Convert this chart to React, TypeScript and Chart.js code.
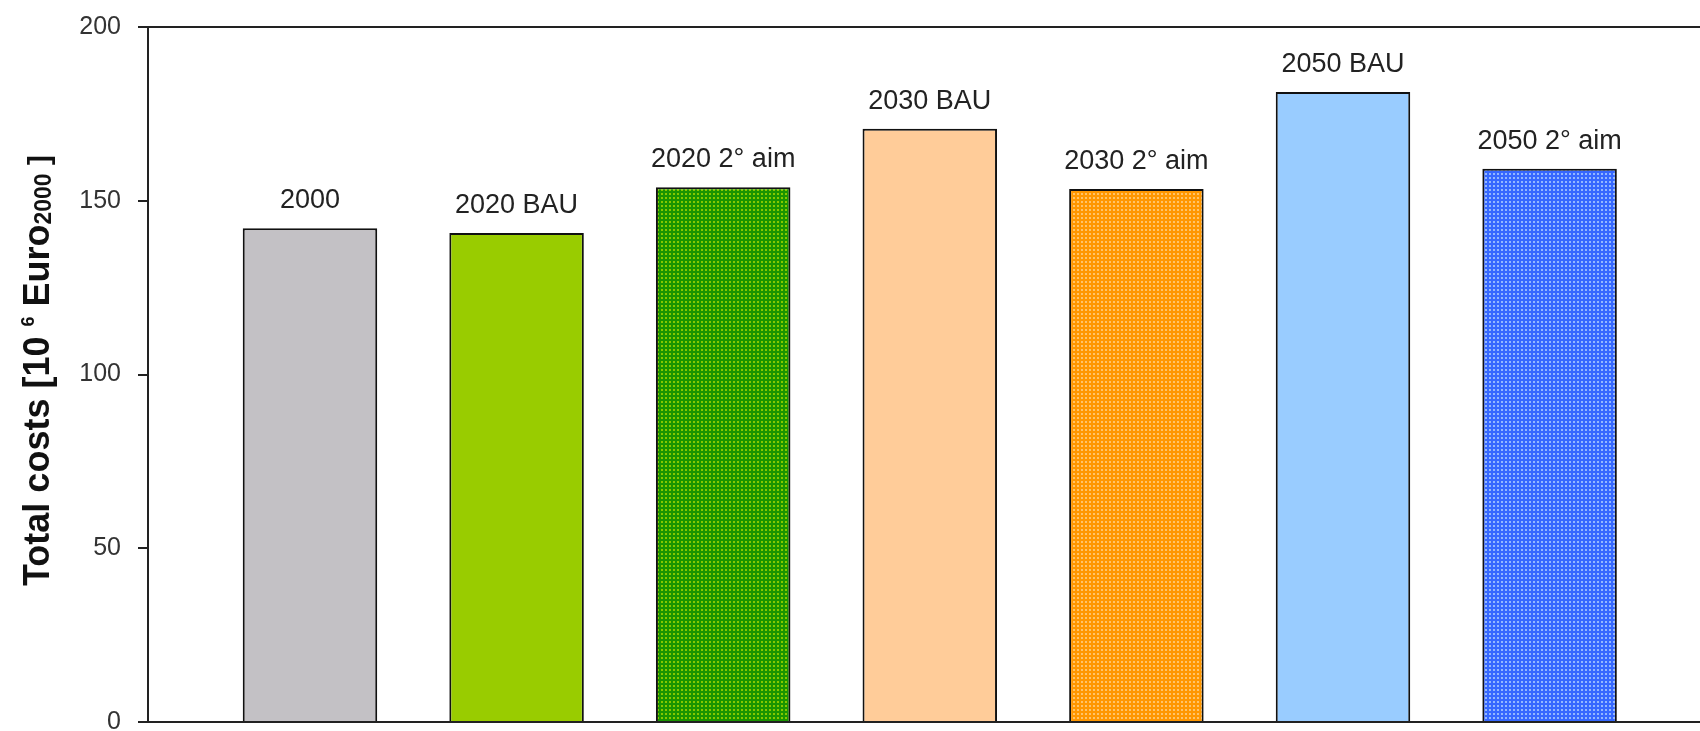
import React, { useEffect, useRef } from 'react';
import { Chart, registerables } from 'chart.js';

Chart.register(...registerables);

const categories = ['2000', '2020 BAU', '2020 2° aim', '2030 BAU', '2030 2° aim', '2050 BAU', '2050 2° aim'];
const costs = [142.1, 140.7, 153.9, 170.7, 153.4, 181.3, 159.2];
const yTicks = [0, 50, 100, 150, 200];

const FONT = '"Liberation Sans", Arial, sans-serif';

function makePattern(base: string, dot: string) {
  const c = document.createElement('canvas');
  c.width = 4;
  c.height = 4;
  const x = c.getContext('2d')!;
  x.fillStyle = base;
  x.fillRect(0, 0, 4, 4);
  x.fillStyle = dot;
  x.fillRect(1, 1, 2, 2);
  return x.createPattern(c, 'repeat')!;
}

const titlePlugin = {
  id: 'yTitle',
  afterDraw(chart: any) {
    const ctx = chart.ctx as CanvasRenderingContext2D;
    const { top, bottom } = chart.chartArea;
    const parts = [
      { t: 'Total costs [10 ', s: 36, dy: 0 },
      { t: '6', s: 18, dy: -15 },
      { t: ' Euro', s: 36, dy: 0 },
      { t: '2000', s: 23, dy: 2 },
      { t: ' ]', s: 30, dy: 0 },
    ];
    ctx.save();
    let total = 0;
    const widths = parts.map((p) => {
      ctx.font = `bold ${p.s}px ${FONT}`;
      const w = ctx.measureText(p.t).width;
      total += w;
      return w;
    });
    ctx.translate(36, (top + bottom) / 2 - 4);
    ctx.rotate(-Math.PI / 2);
    ctx.fillStyle = '#111';
    ctx.textBaseline = 'alphabetic';
    ctx.textAlign = 'left';
    let x = -total / 2;
    const base = 36 * 0.716 / 2;
    parts.forEach((p, i) => {
      ctx.font = `bold ${p.s}px ${FONT}`;
      ctx.fillText(p.t, x, base + p.dy);
      x += widths[i];
    });
    ctx.restore();
  },
};

const labelPlugin = {
  id: 'barLabels',
  afterDatasetsDraw(chart: any) {
    const ctx = chart.ctx as CanvasRenderingContext2D;
    const meta = chart.getDatasetMeta(0);
    ctx.save();
    ctx.font = `27px ${FONT}`;
    ctx.fillStyle = '#222';
    ctx.textAlign = 'center';
    ctx.textBaseline = 'alphabetic';
    meta.data.forEach((el: any, i: number) => {
      ctx.fillText(categories[i], el.x, el.y - 20);
    });
    ctx.restore();
  },
};

export default function App() {
  const ref = useRef<HTMLCanvasElement>(null);
  useEffect(() => {
    if (!ref.current) return;
    const colors = [
      '#C3C1C5',
      '#99CC00',
      makePattern('#1A9400', '#86C800'),
      '#FFCC99',
      makePattern('#FF9700', '#FFC46A'),
      '#99CCFF',
      makePattern('#3668FF', '#94B8FF'),
    ];
    const chart = new Chart(ref.current, {
      type: 'bar',
      data: {
        datasets: [
          {
            label: 'Total costs',
            data: costs.map((v, i) => ({ x: i, y: v })),
            backgroundColor: colors as any,
            borderColor: '#111',
            borderWidth: 2,
            barPercentage: 0.651,
            categoryPercentage: 1,
          },
        ],
      },
      options: {
        animation: false,
        responsive: false,
        layout: { padding: { left: 0, top: 27, right: 0, bottom: 9 } },
        plugins: { legend: { display: false }, tooltip: { enabled: false } },
        scales: {
          x: {
            type: 'linear',
            display: false,
            offset: false,
            grid: { offset: false },
            bounds: 'data',
            min: -0.784,
            max: 6.728,
            afterBuildTicks: (s: any) => {
              s.ticks = categories.map((_, i) => ({ value: i }));
            },
          },
          y: {
            min: 0,
            max: 200,
            afterBuildTicks: (s: any) => {
              s.ticks = yTicks.map((v) => ({ value: v }));
            },
            afterFit: (s: any) => {
              s.width = 148;
              s.paddingTop = 0;
              s.paddingBottom = 0;
            },
            ticks: { font: { family: FONT, size: 25 }, color: '#333', padding: 17 },
            grid: {
              color: (c: any) =>
                c.tick && (c.tick.value === 0 || c.tick.value === 200) ? '#222' : 'rgba(0,0,0,0)',
              lineWidth: 2,
              tickColor: '#222',
              tickLength: 10,
              drawTicks: true,
            },
            border: { display: true, color: '#222', width: 2 },
          },
        },
      },
      plugins: [titlePlugin, labelPlugin],
    } as any);
    return () => chart.destroy();
  }, []);
  return (
    <canvas
      ref={ref}
      width={1700}
      height={731}
      style={{ position: 'fixed', left: 0, top: 0, display: 'block', background: '#fff' }}
    />
  );
}
